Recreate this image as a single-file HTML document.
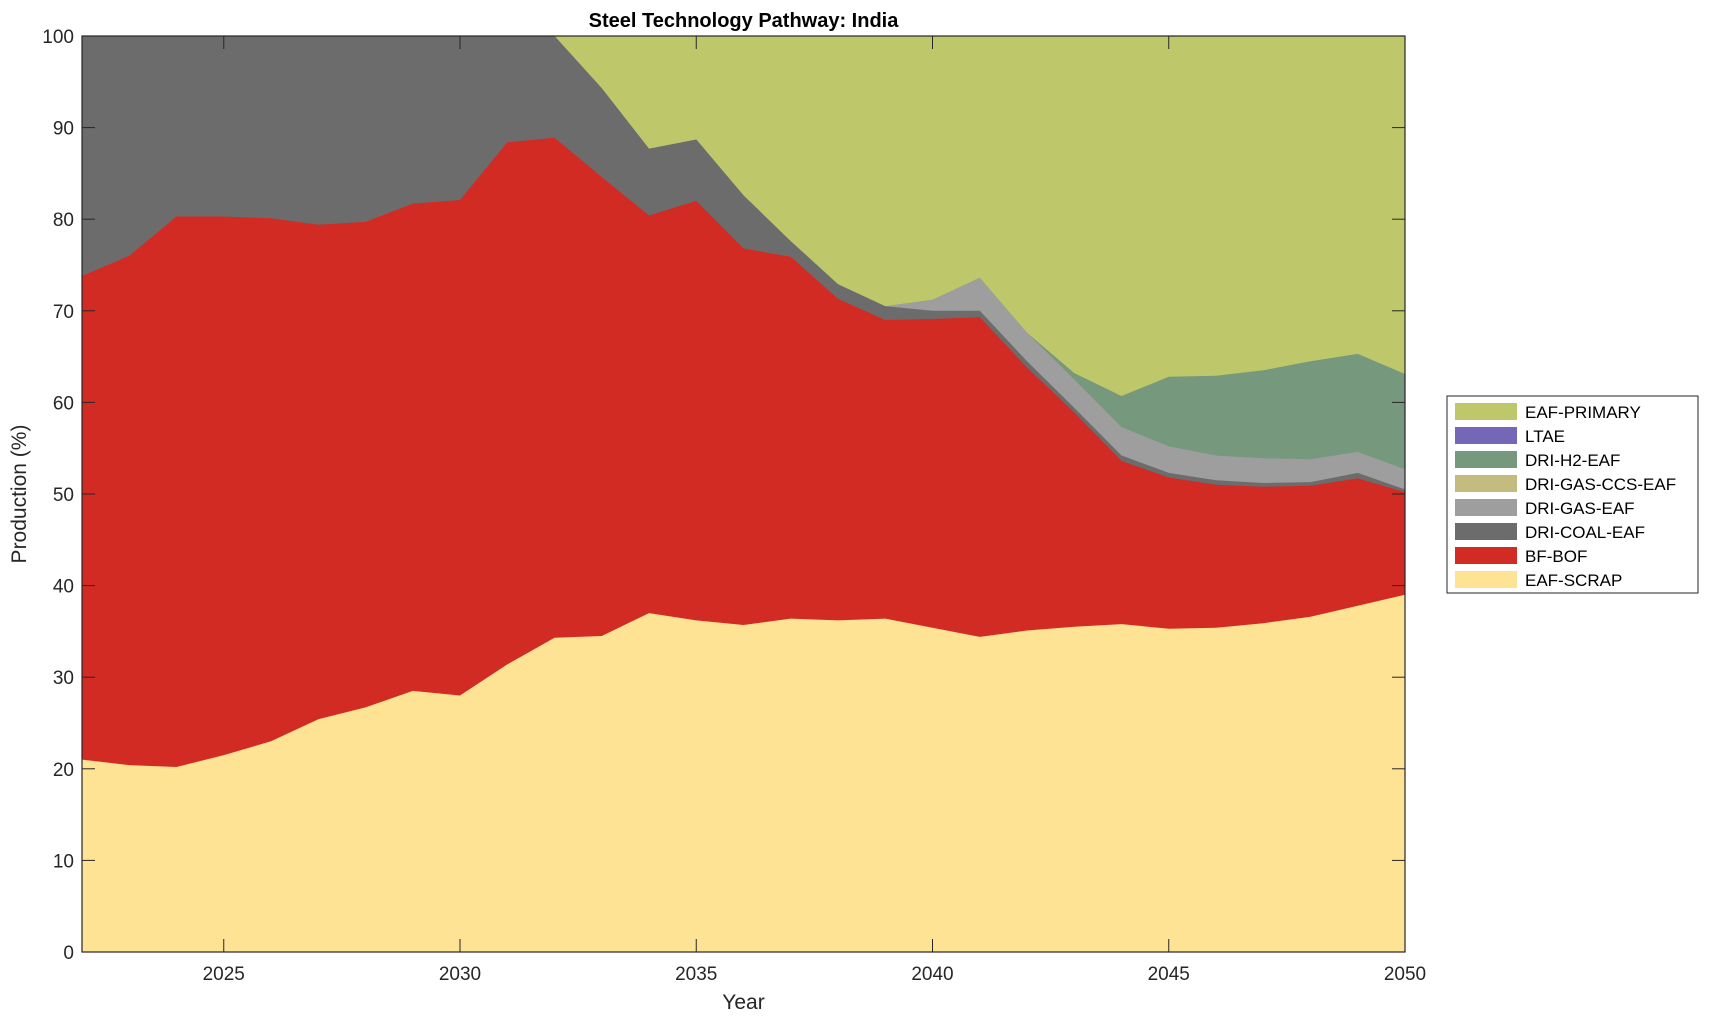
<!DOCTYPE html>
<html><head><meta charset="utf-8"><style>
html,body{margin:0;padding:0;background:#fff;}
svg{display:block;font-family:"Liberation Sans",Arial,sans-serif;}
</style></head><body>
<svg id="c" width="1709" height="1021" xmlns="http://www.w3.org/2000/svg"></svg>
<script>
const L=82,R=1405,T=36,B=952;
const X=y=>L+(y-2022)*(R-L)/28, Y=v=>B-v*(B-T)/100;
const scrap=[21,20.4,20.2,21.5,23,25.4,26.7,28.5,28,31.4,34.3,34.5,37,36.2,35.7,36.4,36.2,36.4,35.4,34.4,35.1,35.5,35.8,35.3,35.4,35.9,36.6,37.8,39];
const bof=[73.8,76,80.3,80.3,80.1,79.4,79.7,81.7,82.1,88.4,88.9,84.6,80.4,82,76.8,75.9,71.3,69,69.1,69.3,63.8,58.9,53.6,51.8,51,50.8,50.9,51.7,50.2];
const coal=[100,100,100,100,100,100,100,100,100,100,100,94.3,87.7,88.7,82.6,77.6,72.9,70.5,70,70,64.5,59.4,54.2,52.3,51.5,51.2,51.3,52.3,50.5];
const gas=coal.slice(); const g2={40:71.2,41:73.6,42:67.6,43:62.5,44:57.3,45:55.2,46:54.2,47:53.9,48:53.8,49:54.6,50:52.7};
for(const k in g2) gas[Number(k)-22]=g2[k];
const h2=gas.slice(); const h={43:63.2,44:60.7,45:62.8,46:62.9,47:63.5,48:64.5,49:65.3,50:63.1};
for(const k in h) h2[Number(k)-22]=h[k];
let s='';
s+=`<rect x="${L}" y="${T}" width="${R-L}" height="${B-T}" fill="#bec86b"/>`;
function area(d,c){let p=`${L},${B} `;d.forEach((v,i)=>p+=`${X(2022+i).toFixed(1)},${Y(v).toFixed(1)} `);p+=`${R},${B}`;s+=`<polygon points="${p}" fill="${c}"/>`;}
area(h2,'#76987c');area(gas,'#9e9e9e');area(coal,'#6c6c6c');area(bof,'#d22b24');area(scrap,'#fee395');
s+=`<rect x="${L}" y="${T}" width="${R-L}" height="${B-T}" fill="none" stroke="#262626" stroke-width="1.2"/>`;
for(let v=0;v<=100;v+=10){const y=Y(v);s+=`<line x1="${L}" y1="${y}" x2="${L+13}" y2="${y}" stroke="#262626"/><line x1="${R}" y1="${y}" x2="${R-13}" y2="${y}" stroke="#262626"/>`;
s+=`<text x="${L-8}" y="${y+7}" font-size="19" text-anchor="end" fill="#262626">${v}</text>`;}
for(let yr=2025;yr<=2050;yr+=5){const x=X(yr);s+=`<line x1="${x}" y1="${B}" x2="${x}" y2="${B-13}" stroke="#262626"/><line x1="${x}" y1="${T}" x2="${x}" y2="${T+13}" stroke="#262626"/>`;
s+=`<text x="${x}" y="${B+28}" font-size="19" text-anchor="middle" fill="#262626">${yr}</text>`;}
s+=`<text x="${(L+R)/2}" y="1009" font-size="21" text-anchor="middle" fill="#262626">Year</text>`;
s+=`<text transform="translate(26,${(T+B)/2}) rotate(-90)" font-size="21" text-anchor="middle" fill="#262626">Production (%)</text>`;
s+=`<text x="${(L+R)/2}" y="27" font-size="20" font-weight="bold" text-anchor="middle" fill="#000">Steel Technology Pathway: India</text>`;
s+=`<rect x="1447" y="396" width="251" height="197" fill="#fff" stroke="#262626" stroke-width="1"/>`;
const lg=[['EAF-PRIMARY','#bec86b'],['LTAE','#7467b6'],['DRI-H2-EAF','#76987c'],['DRI-GAS-CCS-EAF','#c4bb7e'],['DRI-GAS-EAF','#9e9e9e'],['DRI-COAL-EAF','#6c6c6c'],['BF-BOF','#d22b24'],['EAF-SCRAP','#fee395']];
lg.forEach((e,i)=>{const y=403+i*24;s+=`<rect x="1455" y="${y}" width="62" height="17" fill="${e[1]}"/><text x="1525" y="${y+15}" font-size="17" fill="#000">${e[0]}</text>`;});
document.getElementById('c').innerHTML=s;
</script>
</body></html>
